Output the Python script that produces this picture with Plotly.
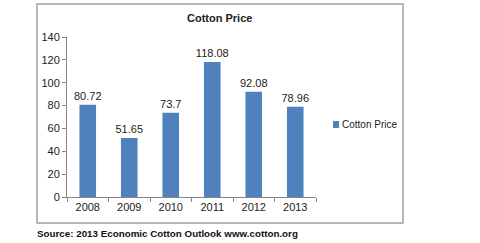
import plotly.graph_objects as go

years = ["2008", "2009", "2010", "2011", "2012", "2013"]
prices = [80.72, 51.65, 73.7, 118.08, 92.08, 78.96]
labels = ["80.72", "51.65", "73.7", "118.08", "92.08", "78.96"]
series_name = "Cotton Price"
title_text = "Cotton Price"
source_text = "Source: 2013 Economic Cotton Outlook www.cotton.org"

FONT = "Liberation Sans, Arial, sans-serif"
BAR = "#4F81BD"
W, H = 480, 243
L, R, T, B = 67, 164, 37, 46
pw = W - L - R
ph = H - T - B

def px2x(px):
    return (px - L) / pw

def py2y(py):
    return (H - B - py) / ph

fig = go.Figure()
fig.add_trace(go.Bar(
    x=years, y=prices, name=series_name,
    marker=dict(color=BAR, line=dict(width=0)),
    text=labels, textposition="outside", constraintext="none",
    textfont=dict(family=FONT, size=11, color="#222222"),
    cliponaxis=False,
    showlegend=False,
))

fig.update_layout(
    width=W, height=H,
    margin=dict(l=L, r=R, t=T, b=B, pad=0),
    paper_bgcolor="white", plot_bgcolor="white",
    bargap=0.6,
    font=dict(family=FONT, size=11, color="#222222"),
    showlegend=False,
    xaxis=dict(showgrid=False, showline=True, linecolor="#868686", linewidth=1,
               ticks="outside", tickson="boundaries", ticklen=4, tickcolor="#868686",
               tickfont=dict(family=FONT, size=11, color="#222222")),
    yaxis=dict(range=[0, 140], dtick=20, showgrid=False, showline=True,
               linecolor="#868686", linewidth=1, ticks="outside", ticklen=4,
               tickcolor="#868686", zeroline=False,
               tickfont=dict(family=FONT, size=11, color="#222222")),
)

# chart border
fig.add_shape(type="rect", xref="paper", yref="paper",
              x0=px2x(37), x1=px2x(403), y0=py2y(223), y1=py2y(4),
              line=dict(color="#A0A0A0", width=1.5), fillcolor="rgba(0,0,0,0)", layer="below")

# legend (small Excel-style key)
fig.add_shape(type="rect", xref="paper", yref="paper",
              x0=px2x(333), x1=px2x(339), y0=py2y(128), y1=py2y(121),
              line=dict(width=0), fillcolor=BAR)
fig.add_annotation(text=series_name, xref="paper", yref="paper",
                   x=px2x(340), y=py2y(124.5), xanchor="left", yanchor="middle",
                   showarrow=False, font=dict(family=FONT, size=10, color="#222222"))

fig.add_annotation(text="<b>" + title_text + "</b>", xref="paper", yref="paper",
                   x=px2x(219), y=py2y(18), xanchor="center", yanchor="middle",
                   showarrow=False, font=dict(family=FONT, size=11, color="#222222"))
fig.add_annotation(text="<b>" + source_text + "</b>", xref="paper", yref="paper",
                   x=px2x(35), y=py2y(233), xanchor="left", yanchor="middle",
                   showarrow=False, font=dict(family=FONT, size=9.8, color="#111111"))

fig.write_html("out.html")
